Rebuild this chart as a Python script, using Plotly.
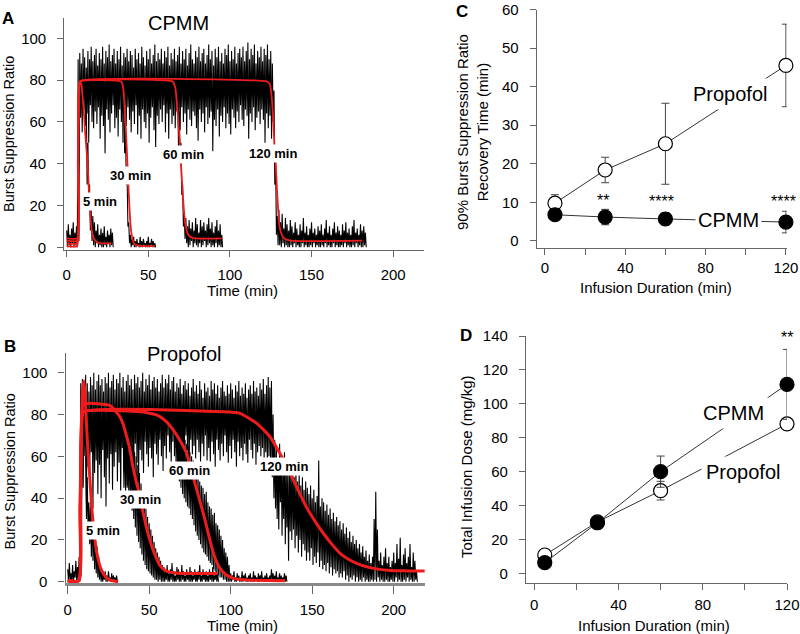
import plotly.graph_objects as go

W, H = 800, 634
FONT = "Arial, Liberation Sans, sans-serif"

# ---------------- Panel A : CPMM burst suppression ratio (upper / lower swing per minute)
a120_t0 = 0
a120_hi = [8, 11, 6, 9, 12, 7, 10,
           90,
           93, 88, 95, 91, 86, 94, 90, 96, 89, 92,
           95, 87, 93, 90, 96, 88, 94, 91, 97, 89,
           92, 95, 88, 94, 90, 96, 87, 93, 91, 95,
           89, 94, 92, 86, 95, 90, 93, 88, 96, 91,
           87, 94, 90, 95, 88, 92, 97, 89, 93, 90,
           95, 88, 94, 91, 96, 87, 93, 90, 95, 89,
           92, 96, 88, 94, 90, 95, 87, 93, 97, 90,
           88, 94, 91, 96, 89, 93, 95, 88, 92, 97,
           90, 94, 87, 95, 91, 96, 89, 93, 88, 95,
           92, 97, 89, 94, 90, 96, 88, 93, 95, 91,
           96, 89, 94, 98, 90, 95, 92, 97, 88, 94,
           91, 96, 89, 95, 92, 97, 90, 94, 88,
           75, 40, 15,
           18, 12, 16, 9, 14, 11, 8, 13, 10, 7,
           12, 9, 6, 11, 8, 14, 7, 10, 6, 9,
           12, 7, 9, 6, 10, 8, 11, 6, 9, 13,
           7, 10, 6, 9, 12, 7, 10, 8, 6, 11,
           8, 12, 7, 9, 6, 10, 13, 7, 9, 6,
           11, 8, 10, 7]
a120_lo = [0, 1, 0, 2, 0, 1, 0,
           3,
           62, 55, 66, 58, 64, 50, 68, 60, 57, 65,
           59, 67, 52, 63, 58, 45, 66, 61, 55, 64,
           68, 57, 62, 53, 66, 60, 50, 64, 58, 67,
           61, 55, 65, 59, 68, 54, 63, 52, 66, 60,
           57, 64, 50, 62, 67, 56, 48, 63, 59, 66,
           60, 68, 55, 64, 52, 66, 59, 63, 57, 65,
           62, 56, 67, 60, 64, 54, 66, 61, 58, 65,
           63, 57, 51, 66, 60, 64, 55, 67, 59, 62,
           65, 46, 61, 58, 66, 53, 63, 60, 67, 57,
           64, 59, 54, 66, 62, 57, 65, 60, 68, 61,
           58, 66, 63, 52, 64, 60, 67, 56, 62, 65,
           59, 66, 61, 50, 64, 57, 63, 52, 60,
           30, 6, 1,
           1, 0, 2, 0, 1, 0, 0, 1, 0, 2,
           0, 1, 0, 0, 2, 0, 1, 0, 0, 1,
           0, 2, 0, 1, 0, 0, 1, 0, 2, 0,
           1, 0, 0, 2, 0, 1, 0, 0, 1, 0,
           2, 0, 1, 0, 0, 1, 0, 2, 0, 1,
           0, 0, 1, 0]

a5_t0 = 12
a5_hi = [70, 50, 30, 18, 15, 12, 8, 11, 6, 9, 7, 10, 5, 8, 6, 9, 7]
a5_lo = [30, 20, 8, 3, 1, 0, 2, 0, 1, 0, 0, 1, 0, 2, 0, 1, 0]

a30_t0 = 35
a30_hi = [72, 60, 35, 12, 6, 4, 5, 3, 4, 2, 5, 3, 4, 2, 3, 5, 2, 4, 3, 2]
a30_lo = [45, 30, 10, 2, 0, 1, 0, 0, 1, 0, 0, 0, 1, 0, 0, 0, 1, 0, 0, 0]

a60_t0 = 68
a60_hi = [72, 65, 50, 30, 16, 14, 10, 13, 9, 12, 8, 14, 11, 7, 13, 10, 12, 8, 11, 14,
          9, 12, 7, 10, 13, 8, 11, 6]
a60_lo = [48, 40, 25, 10, 4, 2, 0, 1, 3, 0, 2, 1, 0, 2, 0, 1, 3, 0, 1, 2,
          0, 1, 0, 2, 0, 1, 0, 0]

# model fits (red)
fa5_t = [0, 6.2, 6.8, 7.4, 8.2, 9.0, 9.6, 10.4, 11.2, 12.0, 12.8, 13.6, 14.3, 15.3, 16.3, 17.3, 19.0, 21.4, 27.5]
fa5_y = [1.9, 1.9, 40, 76, 79.3, 78, 73, 66, 56, 48, 40, 28, 17, 8.3, 5.0, 3.5, 2.3, 1.9, 1.9]
fa30_t = [0, 6.3, 6.9, 7.5, 8.3, 33.0, 34.0, 34.8, 35.6, 36.4, 37.2, 38.0, 38.8, 39.6, 40.6, 42.0, 45.0, 54.0]
fa30_y = [0.6, 0.6, 40, 76, 79.5, 79.5, 78.5, 75, 66, 54, 40, 26, 14, 7, 3, 1.2, 0.7, 0.6]
fa60_t = [0, 6.4, 7.0, 7.6, 8.4, 64.5, 65.6, 66.6, 67.4, 68.2, 69.2, 70.0, 71.2, 72.6, 74.6, 77.6, 95.0]
fa60_y = [4.3, 4.3, 42, 76, 79.5, 79.5, 78.5, 76, 70, 62, 51, 40, 24, 11.5, 5.8, 4.4, 4.3]
fa120_t = [0, 6.5, 7.1, 7.7, 8.5, 122.0, 123.4, 124.5, 125.3, 126.0, 126.6, 127.2, 128.0, 128.8,
           129.6, 130.4, 131.2, 133.1, 137.1, 181.0]
fa120_y = [3.2, 3.2, 42, 76, 79.5, 79.5, 79, 78, 74, 68, 60, 50, 40.7, 28, 17, 10, 7.2, 4.3, 3.2, 3.2]

# ---------------- Panel B : Propofol
b120_t0 = 0
b120_hi = [6, 9, 4, 8, 5, 10, 7, 12,
           95,
           97, 93, 99, 95, 91, 98, 94, 100, 92, 96,
           99, 94, 97, 91, 98, 95, 100, 93, 96, 99,
           92, 97, 95, 100, 93, 98, 91, 96, 99, 94,
           97, 92, 99, 95, 98, 93, 96, 100, 91, 97,
           94, 99, 92, 96, 98, 93, 97, 91, 95, 99,
           93, 97, 95, 99, 92, 96, 98, 91, 95, 93,
           97, 90, 94, 96, 92, 95, 89, 93, 97, 91,
           94, 90, 96, 92, 88, 95, 91, 93, 89, 96,
           92, 95, 90, 94, 88, 93, 96, 91, 89, 94,
           90, 95, 92, 88, 94, 91, 96, 89, 93, 90,
           95, 88, 92, 94, 90, 96, 91, 93, 89, 95,
           92, 97, 90, 94, 98, 93,
           96, 80,
           68, 64, 58, 66, 60, 55, 62, 57, 52, 59,
           55, 58, 50, 54, 48, 52, 46, 50, 44, 48,
           45, 42, 46, 40, 44, 38, 41, 58, 36, 40,
           38, 34, 37, 32, 35, 30, 33, 29, 31, 27,
           29, 25, 28, 23, 26, 21, 24, 19, 22, 18,
           20, 16, 18, 14, 17, 12, 15, 10, 13, 9,
           12, 30, 43, 25, 10, 14, 8, 12, 16, 9,
           12, 7, 10, 14, 9, 18, 11, 21, 8, 13,
           16, 9, 12, 18, 7, 14, 10, 5]
b120_lo = [0, 1, 0, 0, 2, 0, 1, 2,
           20,
           45, 60, 38, 55, 48, 62, 35, 52, 58, 42,
           56, 40, 63, 50, 36, 59, 47, 61, 44, 55,
           62, 48, 57, 40, 64, 53, 59, 46, 63, 55,
           60, 50, 66, 57, 48, 63, 58, 52, 67, 61,
           55, 64, 59, 50, 66, 61, 56, 68, 60, 53,
           65, 59, 70, 62, 56, 67, 60, 64, 57, 69,
           62, 66, 58, 70, 63, 55, 68, 61, 65, 59,
           68, 62, 57, 66, 60, 70, 58, 64, 56, 67,
           61, 55, 68, 63, 58, 66, 60, 70, 62, 57,
           65, 59, 68, 62, 55, 67, 60, 64, 58, 66,
           61, 57, 68, 63, 59, 66, 56, 62, 65, 60,
           64, 58, 62, 55, 60, 57,
           50, 40,
           35, 30, 25, 38, 22, 30, 18, 26, 10, 24,
           20, 25, 16, 22, 14, 20, 12, 18, 15, 10,
           14, 10, 16, 8, 12, 9, 14, 7, 10, 6,
           8, 5, 9, 4, 7, 3, 6, 4, 5, 2,
           4, 2, 5, 1, 3, 0, 2, 1, 3, 0,
           2, 0, 1, 0, 2, 0, 1, 0, 0, 1,
           0, 1, 0, 2, 0, 1, 0, 0, 1, 0,
           0, 1, 0, 0, 2, 0, 1, 0, 0, 1,
           0, 2, 0, 1, 0, 0, 1, 0]

b5_t0 = 11
b5_hi = [60, 50, 38, 36, 33, 28, 22, 17, 12, 8, 5, 4, 5, 3, 5, 2, 4, 3, 2, 3]
b5_lo = [30, 25, 18, 12, 10, 6, 4, 2, 1, 0, 0, 1, 0, 0, 1, 0, 0, 1, 0, 0]

b30_t0 = 34
b30_hi = [75, 73, 75, 70, 70, 66, 65, 62, 60, 56, 52, 47, 42, 38, 35, 31, 28, 25, 22, 19,
          16, 14, 12, 10, 8,
          7, 5, 8, 4, 6, 9, 5, 3, 7, 6, 4, 8, 5, 3, 6, 4, 7, 5, 3, 6,
          4, 5, 8, 3, 6, 4, 5, 3, 6, 4, 7, 3, 5, 4]
b30_lo = [45, 42, 45, 40, 38, 34, 30, 26, 22, 19, 16, 13, 10, 8, 6, 5, 4, 3, 2, 1,
          1, 0, 1, 0, 0,
          0, 1, 0, 0, 1, 0, 0, 0, 1, 0, 0, 1, 0, 0, 1, 0, 0, 0, 1, 0,
          0, 1, 0, 0, 1, 0, 0, 0, 1, 0, 0, 1, 0, 0]

b60_t0 = 66
b60_hi = [85, 83, 80, 78, 75, 72, 68, 66, 65, 62, 60, 58, 56, 53, 51, 48, 46, 45, 42, 43,
          38, 36, 35, 32, 33, 28, 27, 25, 22, 20, 16, 14, 12, 8,
          4, 3, 5, 2, 4, 3, 2, 5, 3, 4, 2, 3, 4, 2, 5, 3, 2, 4, 3, 5,
          2, 3, 4, 2, 3, 6, 4, 3, 5, 2, 4, 3, 2, 4, 3]
b60_lo = [55, 50, 48, 45, 42, 40, 38, 36, 35, 32, 30, 27, 24, 22, 20, 18, 16, 14, 13, 12,
          10, 9, 8, 6, 5, 4, 3, 2, 2, 1, 1, 0, 0, 0,
          0, 1, 0, 0, 1, 0, 0, 0, 1, 0, 0, 1, 0, 0, 0, 1, 0, 0, 1, 0,
          0, 0, 1, 0, 0, 1, 0, 0, 0, 1, 0, 0, 1, 0, 0]

fb5_t = [0, 6.8, 7.6, 8.4, 9.2, 10.0, 10.8, 11.6, 12.4, 13.3, 14.7, 15.7, 16.7, 17.7, 18.8,
         20.2, 21.8, 23.8, 25.9, 28.5, 31.0]
fb5_y = [0.5, 0.5, 30, 72, 92, 96, 88, 74, 63, 53, 36, 27, 20, 14.5, 10.4, 6.5, 4, 2, 0.8, 0.3, 0]
fb30_t = [0, 6.8, 7.6, 8.4, 9.4, 12, 20, 26, 29, 32, 34, 36, 38, 40, 42, 44, 46, 48, 50, 52,
          54, 56, 58, 61, 65, 70, 80, 92]
fb30_y = [0.5, 0.5, 35, 76, 84.5, 85.3, 85, 84.3, 82, 79, 75.5, 70, 64, 55, 48, 42, 34, 27,
          21, 16, 12, 8.5, 6.5, 5, 4.3, 4, 4, 4]
fb60_t = [0, 6.9, 7.7, 8.5, 9.5, 45, 54.6, 60, 64.8, 69, 73, 75.5, 78.1, 80.6, 83.2, 85.8,
          88.3, 90.8, 93.4, 97, 101.6, 110, 133.3]
fb60_y = [0.5, 0.5, 35, 75, 81.3, 81.3, 79.8, 77, 72.6, 67.5, 61.4, 54.5, 47, 40, 32.7,
          24.5, 16.7, 10.5, 6.4, 3.5, 1.6, 0.8, 0.5]
fb120_t = [0, 7.0, 7.8, 8.6, 9.6, 95, 105.7, 116, 124.1, 130.2, 134.3, 138.4, 142.5, 146.6,
           151.7, 156.8, 162, 167.1, 172.2, 177.3, 182.4, 187.5, 197.7, 208, 219]
fb120_y = [0.5, 0.5, 35, 75, 81.3, 81.3, 80.6, 75.8, 69.4, 61.4, 55.5, 48.7, 42, 35.5, 29,
           23.2, 18, 13.6, 10.8, 8.8, 7.4, 6.4, 5.4, 5.2, 5.1]

# ---------------- Panels C and D : summary
durations = [5, 30, 60, 120]
c_propofol = [9.8, 18.4, 25.2, 45.5]
c_propofol_err = [2.2, 3.3, 10.5, 10.7]
c_cpmm = [6.8, 6.2, 5.7, 4.9]
c_cpmm_err = [1.2, 2.0, 1.6, 2.8]
d_propofol = [11.0, 30.5, 48.9, 88.2]
d_propofol_err = [1.5, 2.5, 5.5, 3.5]
d_cpmm = [6.5, 30.0, 60.1, 111.5]
d_cpmm_err = [1.0, 3.0, 9.2, 20.6]


def zigzag(t0, hi, lo):
    xs, ys = [], []
    for i, (h, l) in enumerate(zip(hi, lo)):
        xs += [t0 + i, t0 + i + 0.5]
        ys += [h, l]
    return xs, ys


def P(x, y):
    return x / W, 1 - y / H


fig = go.Figure()

# black EEG traces
for t0, hi, lo, xa, ya in [
    (a120_t0, a120_hi, a120_lo, "x", "y"),
    (a5_t0, a5_hi, a5_lo, "x", "y"),
    (a30_t0, a30_hi, a30_lo, "x", "y"),
    (a60_t0, a60_hi, a60_lo, "x", "y"),
    (b120_t0, b120_hi, b120_lo, "x2", "y2"),
    (b5_t0, b5_hi, b5_lo, "x2", "y2"),
    (b30_t0, b30_hi, b30_lo, "x2", "y2"),
    (b60_t0, b60_hi, b60_lo, "x2", "y2"),
]:
    xs, ys = zigzag(t0, hi, lo)
    fig.add_trace(go.Scatter(x=xs, y=ys, mode="lines", xaxis=xa, yaxis=ya,
                             line=dict(color="#000000", width=1.1), hoverinfo="skip"))

# red fits
for t, y in [(fa5_t, fa5_y), (fa30_t, fa30_y), (fa60_t, fa60_y), (fa120_t, fa120_y)]:
    fig.add_trace(go.Scatter(x=t, y=y, mode="lines", xaxis="x", yaxis="y",
                             line=dict(color="#ee1c1c", width=1.8, shape="spline", smoothing=0.5)))
for t, y in [(fb5_t, fb5_y), (fb30_t, fb30_y), (fb60_t, fb60_y), (fb120_t, fb120_y)]:
    fig.add_trace(go.Scatter(x=t, y=y, mode="lines", xaxis="x2", yaxis="y2",
                             line=dict(color="#ee1c1c", width=3, shape="spline", smoothing=0.5)))

# summary panels
for ys_, err, fill, xa, ya in [
    (c_propofol, c_propofol_err, "white", "x3", "y3"),
    (c_cpmm, c_cpmm_err, "black", "x3", "y3"),
    (d_propofol, d_propofol_err, "white", "x4", "y4"),
    (d_cpmm, d_cpmm_err, "black", "x4", "y4"),
]:
    fig.add_trace(go.Scatter(
        x=durations, y=ys_, mode="lines+markers", xaxis=xa, yaxis=ya, cliponaxis=False,
        line=dict(color="#333333", width=1),
        marker=dict(symbol="circle", size=14, color=fill, line=dict(color="black", width=1.2)),
        error_y=dict(type="data", array=err, color="#444444", thickness=1, width=4),
    ))

axis_common = dict(showline=True, linecolor="#666666", linewidth=1.2, ticks="outside",
                   ticklen=6, tickcolor="#666666", showgrid=False, zeroline=False,
                   automargin=False, ticklabeloverflow="allow",
                   tickfont=dict(family=FONT, size=15, color="black"))

fig.update_layout(
    template="none",
    width=W, height=H, margin=dict(l=0, r=0, t=0, b=0, autoexpand=False),
    paper_bgcolor="white", plot_bgcolor="white", showlegend=False,
    font=dict(family=FONT, color="black"),
    xaxis=dict(domain=[64.3 / W, 424 / W], range=[-1.47, 218.9], anchor="y",
               tickvals=[0, 50, 100, 150, 200], ticklabelstandoff=5, **axis_common),
    yaxis=dict(domain=[1 - 250 / H, 1 - 18.3 / H], range=[-1.3, 109.6], anchor="x",
               tickvals=[0, 20, 40, 60, 80, 100], ticklabelstandoff=8, **axis_common),
    xaxis2=dict(domain=[65.5 / W, 425 / W], range=[-1.35, 219.2], anchor="y2",
                tickvals=[0, 50, 100, 150, 200], ticklabelstandoff=3, **axis_common),
    yaxis2=dict(domain=[1 - 583 / H, 1 - 352.7 / H], range=[-0.6, 109.6], anchor="x2",
                tickvals=[0, 20, 40, 60, 80, 100], ticklabelstandoff=8, **axis_common),
    xaxis3=dict(domain=[536.7 / W, 786.7 / W], range=[-4.1, 120.4], anchor="y3",
                tickvals=[0, 20, 40, 60, 80, 100, 120],
                ticktext=["0", "", "40", "", "80", "", "120"], ticklabelstandoff=0, **axis_common),
    yaxis3=dict(domain=[1 - 248.3 / H, 1 - 9.5 / H], range=[-1.9, 60], anchor="x3",
                tickvals=[0, 10, 20, 30, 40, 50, 60], ticklabelstandoff=8, **axis_common),
    xaxis4=dict(domain=[526 / W, 787 / W], range=[-3.9, 120], anchor="y4",
                tickvals=[0, 20, 40, 60, 80, 100, 120],
                ticktext=["0", "", "40", "", "80", "", "120"], ticklabelstandoff=2, **axis_common),
    yaxis4=dict(domain=[1 - 582.7 / H, 1 - 336 / H], range=[-5.3, 140], anchor="x4",
                tickvals=[0, 20, 40, 60, 80, 100, 120, 140], ticklabelstandoff=8, **axis_common),
)
fig.update_xaxes(linewidth=2.5, linecolor="#8a8a8a", ticklen=8, selector=dict(anchor="y2"))

ann = []


def paper_text(txt, x, y, size, angle=0, bold=False):
    px_, py_ = P(x, y)
    ann.append(dict(text=f"<b>{txt}</b>" if bold else txt, x=px_, y=py_, xref="paper", yref="paper",
                    showarrow=False, textangle=angle, xanchor="center", yanchor="middle",
                    font=dict(family=FONT, size=size, color="black")))


def data_label(txt, x, y, xa, ya, size, bold=False, pad=1):
    ann.append(dict(text=f"<b>{txt}</b>" if bold else txt, x=x, y=y, xref=xa, yref=ya,
                    showarrow=False, bgcolor="white", borderpad=pad,
                    font=dict(family=FONT, size=size, color="black")))


paper_text("A", 8, 18, 17, bold=True)
paper_text("B", 10, 346, 17, bold=True)
paper_text("C", 462, 11, 17, bold=True)
paper_text("D", 466, 335, 17, bold=True)
paper_text("CPMM", 178, 23, 20)
paper_text("Propofol", 184, 354, 20)
paper_text("Burst Suppression Ratio", 9, 134, 14.5, angle=-90)
paper_text("Burst Suppression Ratio", 9.5, 472, 14.5, angle=-90)
paper_text("Time (min)", 242, 290, 15)
paper_text("Time (min)", 242, 625, 15)
paper_text("90% Burst Suppression Ratio<br>Recovery Time (min)", 472, 132, 15, angle=-90)
paper_text("Total Infusion Dose (mg/kg)", 466, 467, 15, angle=-90)
paper_text("Infusion Duration (min)", 656, 287, 15)
paper_text("Infusion Duration (min)", 654, 625, 15)
paper_text("**", 787, 337, 16)

data_label("5 min", 20.4, 21.8, "x", "y", 13, bold=True)
data_label("30 min", 38.8, 34.6, "x", "y", 13, bold=True)
data_label("60 min", 71.4, 44.2, "x", "y", 13, bold=True)
data_label("120 min", 126.6, 45, "x", "y", 13, bold=True)
data_label("5 min", 21.8, 24.7, "x2", "y2", 13, bold=True)
data_label("30 min", 44.4, 39.4, "x2", "y2", 13, bold=True)
data_label("60 min", 74.6, 53, "x2", "y2", 13, bold=True)
data_label("120 min", 133, 55, "x2", "y2", 13, bold=True)

data_label("Propofol", 92.2, 38.2, "x3", "y3", 20, pad=4)
data_label("CPMM", 91.3, 5.4, "x3", "y3", 20, pad=2)
data_label("CPMM", 94.4, 94.5, "x4", "y4", 20, pad=4)
data_label("Propofol", 99.2, 60.1, "x4", "y4", 20, pad=4)

for txt, x, y, xa, ya in [("**", 29, 10.6, "x3", "y3"), ("****", 58, 10.2, "x3", "y3"),
                          ("****", 119, 10.2, "x3", "y3")]:
    ann.append(dict(text=txt, x=x, y=y, xref=xa, yref=ya, showarrow=False,
                    font=dict(family=FONT, size=16, color="black")))

fig.update_layout(annotations=ann)
fig.write_html("out.html", config={"displayModeBar": False},
               post_script="document.body.style.margin='0px';document.body.style.overflow='hidden';")
